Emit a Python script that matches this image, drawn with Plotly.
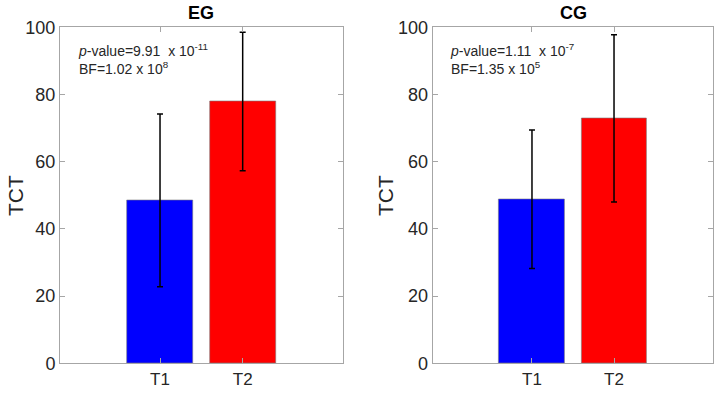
import plotly.graph_objects as go

categories = ["T1", "T2"]
groups = ["EG", "CG"]
eg_means = [48.5, 77.9]
eg_errors = [25.7, 20.6]
cg_means = [48.8, 72.9]
cg_errors = [20.6, 24.9]
bar_colors = ["#0000ff", "#ff0000"]
stats_text = [
    "<i>p</i>-value=9.91  x 10<sup>-11</sup><br>BF=1.02 x 10<sup>8</sup>",
    "<i>p</i>-value=1.11  x 10<sup>-7</sup><br>BF=1.35 x 10<sup>5</sup>",
]
y_title = "TCT"
y_ticks = [0, 20, 40, 60, 80, 100]

W, H = 721, 395
FONT = "Arial, Liberation Sans, Helvetica, sans-serif"
x_pos = [1, 2]

fig = go.Figure()
data = [(eg_means, eg_errors), (cg_means, cg_errors)]
for i, (means, errs) in enumerate(data):
    suffix = "" if i == 0 else "2"
    fig.add_trace(go.Bar(
        x=x_pos, y=means, width=0.8,
        marker=dict(color=bar_colors, line=dict(color="#7a7a7a", width=0.6)),
        error_y=dict(type="data", array=errs, visible=True, color="black",
                     thickness=1.5, width=3),
        xaxis="x" + suffix, yaxis="y" + suffix, showlegend=False,
    ))

axis_common = dict(showline=True, linecolor="#a6a6a6", linewidth=1, mirror="ticks",
                   ticks="inside", ticklen=5, tickcolor="#a6a6a6", showgrid=False,
                   zeroline=False, automargin=False)

def px_x(p):
    return p / W

def px_y(p):
    return 1 - p / H

x_domains = [[px_x(60), px_x(342.7)], [px_x(432.7), px_x(713.3)]]
y_domain = [px_y(363.3), px_y(27.3)]
ytitle_x = [px_x(15), px_x(385)]

layout = dict(
    width=W, height=H, margin=dict(l=0, r=0, t=0, b=0, pad=0),
    paper_bgcolor="white", plot_bgcolor="white",
    font=dict(family=FONT, color="#262626"),
    bargap=0,
)
for i in range(2):
    suffix = "" if i == 0 else "2"
    layout["xaxis" + suffix] = dict(
        domain=x_domains[i], range=[-0.21, 3.21], tickvals=x_pos, ticktext=categories,
        anchor="y" + suffix, fixedrange=True,
        tickfont=dict(family=FONT, size=17, color="#262626"), **axis_common)
    layout["yaxis" + suffix] = dict(
        domain=y_domain, range=[0, 100], tickvals=y_ticks, anchor="x" + suffix,
        tickfont=dict(family=FONT, size=18, color="#262626"),
        **axis_common)

fig.update_layout(**layout)

annotations = []
for i in range(2):
    x0, x1 = x_domains[i]
    s = "" if i == 0 else "2"
    annotations.append(dict(
        text="<b>%s</b>" % groups[i], x=(x0 + x1) / 2, y=px_y(13), xref="paper", yref="paper",
        showarrow=False, font=dict(family=FONT, size=18, color="black"), xanchor="center", yanchor="middle"))
    annotations.append(dict(
        text=y_title, x=ytitle_x[i], y=px_y(196), xref="paper", yref="paper", textangle=-90,
        showarrow=False, font=dict(family=FONT, size=21, color="#262626"), xanchor="center", yanchor="middle"))
    annotations.append(dict(
        text=stats_text[i], x=0.055, y=0.965, xref="x%s domain" % s,
        yref="y%s domain" % s, showarrow=False, align="left",
        xanchor="left", yanchor="top", font=dict(family=FONT, size=14, color="#262626")))
fig.update_layout(annotations=annotations)

fig.write_html("out.html", config={"displayModeBar": False},
               post_script="document.body.style.margin='0px';document.body.style.overflow='hidden';")
